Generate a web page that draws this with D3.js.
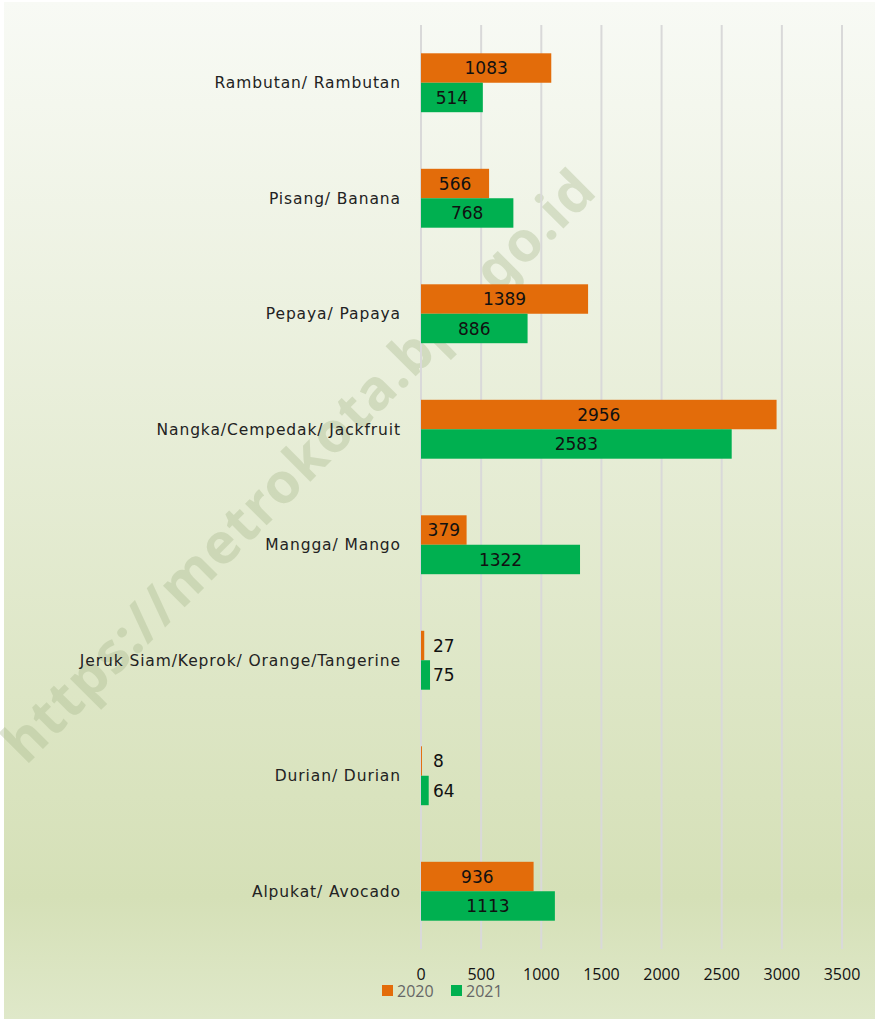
<!DOCTYPE html>
<html>
<head>
<meta charset="utf-8">
<script src="https://cdn.jsdelivr.net/npm/d3@7"></script>
<style>
  body { margin: 0; background: #fff; }
  svg { display: block; }
</style>
</head>
<body>
<div id="chart"></div>
<script>
const categories = [
  "Rambutan/ Rambutan",
  "Pisang/ Banana",
  "Pepaya/ Papaya",
  "Nangka/Cempedak/ Jackfruit",
  "Mangga/ Mango",
  "Jeruk Siam/Keprok/ Orange/Tangerine",
  "Durian/ Durian",
  "Alpukat/ Avocado"
];
const values2020 = [1083, 566, 1389, 2956, 379, 27, 8, 936];
const values2021 = [514, 768, 886, 2583, 1322, 75, 64, 1113];
const seriesNames = ["2020", "2021"];
const tickValues = [0, 500, 1000, 1500, 2000, 2500, 3000, 3500];

const W = 875, H = 1019;
const colors = ["#e36c0a", "#00b050"];

const svg = d3.select("#chart").append("svg")
  .attr("width", W).attr("height", H);

const defs = svg.append("defs");
const grad = defs.append("linearGradient")
  .attr("id", "bg").attr("x1", 0).attr("y1", 0).attr("x2", 0).attr("y2", 1);
grad.append("stop").attr("offset", "0%").attr("stop-color", "#f8faf5");
grad.append("stop").attr("offset", "88%").attr("stop-color", "#d5e0b7");
grad.append("stop").attr("offset", "100%").attr("stop-color", "#dfe8c9");

svg.append("rect")
  .attr("x", 4).attr("y", 2)
  .attr("width", W - 4).attr("height", H - 2)
  .attr("fill", "url(#bg)");

// watermark
svg.append("text")
  .attr("transform", "translate(26,766) rotate(-45)")
  .attr("font-family", "'Noto Sans', sans-serif")
  .attr("font-weight", "bold")
  .attr("font-size", 56)
  .attr("letter-spacing", 1.2)
  .attr("fill", "#a7b88c")
  .attr("opacity", 0.36)
  .text("https://metrokota.bps.go.id");

const x = d3.scaleLinear().domain([0, 3500]).range([421, 842]);
const y = d3.scaleBand().domain(categories).range([25, 949]).paddingInner(0.49).paddingOuter(0.245);
const sub = d3.scaleBand().domain(seriesNames).range([0, y.bandwidth()]);

// gridlines
svg.append("g")
  .selectAll("line")
  .data(tickValues)
  .join("line")
  .attr("x1", d => x(d)).attr("x2", d => x(d))
  .attr("y1", 25).attr("y2", 949)
  .attr("stroke", "#d9d9d9")
  .attr("stroke-width", 2);

// tick labels
svg.append("g")
  .selectAll("text")
  .data(tickValues)
  .join("text")
  .attr("x", d => x(d))
  .attr("y", 980)
  .attr("text-anchor", "middle")
  .attr("font-family", "'Open Sans', sans-serif")
  .attr("font-size", 16)
  .attr("fill", "#111")
  .text(d => d);

// category labels
svg.append("g")
  .selectAll("text")
  .data(categories)
  .join("text")
  .attr("x", 401)
  .attr("y", d => y(d) + y.bandwidth() / 2)
  .attr("dy", "0.35em")
  .attr("text-anchor", "end")
  .attr("font-family", "'DejaVu Sans', sans-serif")
  .attr("font-size", 15.5)
  .attr("letter-spacing", 0.9)
  .attr("fill", "#222")
  .text(d => d);

const series = [values2020, values2021];
series.forEach(function(vals, si) {
  const g = svg.append("g");
  const rows = categories.map((c, i) => ({ c: c, v: vals[i] }));

  g.selectAll("rect")
    .data(rows)
    .join("rect")
    .attr("x", x(0))
    .attr("y", d => y(d.c) + sub(seriesNames[si]))
    .attr("width", d => Math.max(x(d.v) - x(0), 0.5))
    .attr("height", sub.bandwidth())
    .attr("fill", colors[si]);

  g.selectAll("text")
    .data(rows)
    .join("text")
    .attr("x", function(d) {
      const w = x(d.v) - x(0);
      return w > 40 ? x(0) + w / 2 : x(0) + 12;
    })
    .attr("y", d => y(d.c) + sub(seriesNames[si]) + sub.bandwidth() / 2)
    .attr("dy", "0.36em")
    .attr("text-anchor", d => (x(d.v) - x(0)) > 40 ? "middle" : "start")
    .attr("font-family", "'DejaVu Sans', sans-serif")
    .attr("font-size", 17)
    .attr("fill", "#111")
    .text(d => d.v);
});

// legend
const legend = svg.append("g");
seriesNames.forEach(function(name, i) {
  const lx = 382 + i * 69;
  legend.append("rect")
    .attr("x", lx).attr("y", 985)
    .attr("width", 11).attr("height", 11)
    .attr("fill", colors[i]);
  legend.append("text")
    .attr("x", lx + 15).attr("y", 997)
    .attr("font-family", "'Open Sans', sans-serif")
    .attr("font-size", 16)
    .attr("fill", "#666")
    .text(name);
});
</script>
</body>
</html>
